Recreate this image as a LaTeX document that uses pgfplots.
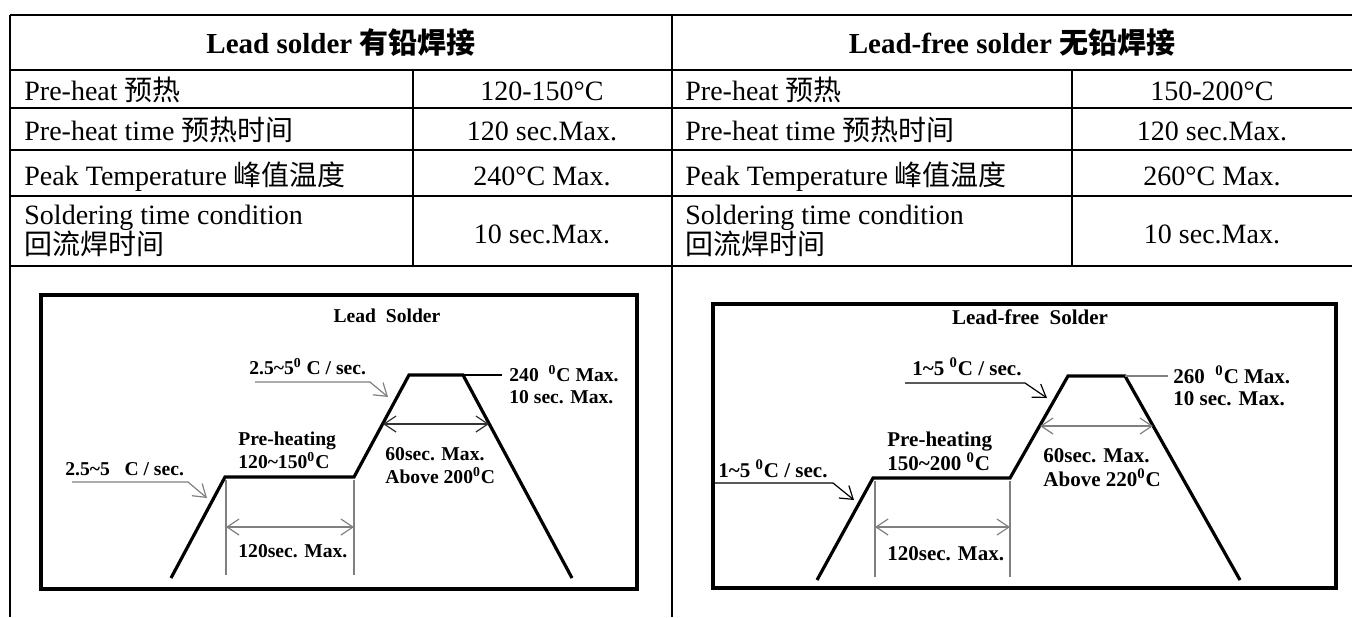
\documentclass[border=0pt]{standalone}
\usepackage{fontspec}
\setmainfont{Liberation Serif}
\newfontfamily\cjk{Noto Sans CJK SC}
\usepackage{pgfplots}
\pgfplotsset{compat=1.18}
\usetikzlibrary{arrows.meta}

\newcommand\tf{\fontsize{14pt}{16pt}\selectfont}
\newcommand\hf{\fontsize{14.5pt}{16pt}\selectfont\bfseries}
\newcommand\lf{\fontsize{9.8pt}{11pt}\selectfont\bfseries}
\newcommand\rf{\fontsize{10.5pt}{12pt}\selectfont\bfseries}
\newcommand\dg{\textsuperscript{0}}
\newcommand\tl{\textasciitilde}

\tikzset{
  rule/.style={line width=1pt},
  lead/.style={line width=0.6pt, -{Straight Barb[length=6pt,width=8pt]}},
  span/.style={line width=0.6pt, {Straight Barb[length=6pt,width=8pt]}-{Straight Barb[length=6pt,width=8pt]}},
  profile/.style={black, line width=1.6pt, line join=miter},
  t/.style={inner sep=0pt, anchor=base west},
  c/.style={inner sep=0pt, anchor=base},
}

\begin{document}
\begin{tikzpicture}
% table, in pixels of the reference
\begin{scope}[x=0.5pt,y=-0.5pt]
\useasboundingbox (0,0) rectangle (1352,617);
\foreach \y in {15,70,108,150,196,266} \draw[rule] (10,\y) -- (1352,\y);
\draw[rule] (10,15) -- (10,617);
\draw[rule] (672,15) -- (672,617);
\draw[rule] (413,70) -- (413,266);
\draw[rule] (1072,70) -- (1072,266);

\node[c, font=\hf] at (341,53) {Lead solder {\cjk 有铅焊接}};
\node[c, font=\hf] at (1012,53) {Lead-free solder {\cjk 无铅焊接}};

\node[t, font=\tf] at (24,100) {Pre-heat {\cjk 预热}};
\node[t, font=\tf] at (24,140) {Pre-heat time {\cjk 预热时间}};
\node[t, font=\tf] at (24,185) {Peak Temperature {\cjk 峰值温度}};
\node[t, font=\tf] at (24,224) {Soldering time condition};
\node[t, font=\tf] at (24,254) {\cjk 回流焊时间};
\node[c, font=\tf] at (542,100) {120-150°C};
\node[c, font=\tf] at (542,140) {120 sec.Max.};
\node[c, font=\tf] at (542,185) {240°C Max.};
\node[c, font=\tf] at (542,243) {10 sec.Max.};

\node[t, font=\tf] at (685,100) {Pre-heat {\cjk 预热}};
\node[t, font=\tf] at (685,140) {Pre-heat time {\cjk 预热时间}};
\node[t, font=\tf] at (685,185) {Peak Temperature {\cjk 峰值温度}};
\node[t, font=\tf] at (685,224) {Soldering time condition};
\node[t, font=\tf] at (685,254) {\cjk 回流焊时间};
\node[c, font=\tf] at (1212,100) {150-200°C};
\node[c, font=\tf] at (1212,140) {120 sec.Max.};
\node[c, font=\tf] at (1212,185) {260°C Max.};
\node[c, font=\tf] at (1212,243) {10 sec.Max.};

\coordinate (A) at (41,589);
\coordinate (B) at (713,588);
\end{scope}

% lead solder profile
\begin{axis}[
    at={(A)}, anchor=south west,
    scale only axis, width=298pt, height=147pt,
    xmin=41, xmax=637, ymin=295, ymax=589,
    y dir=reverse,
    xtick=\empty, ytick=\empty,
    axis line style={line width=1.6pt},
    clip=false,
]
\addplot[profile] coordinates {(171,578) (225,477) (354,477) (409,375) (463,375) (572,578)};
\addplot[gray, line width=0.6pt] coordinates {(226,480) (226,575)};
\addplot[gray, line width=0.6pt] coordinates {(354,480) (354,575)};
\addplot[gray, span] coordinates {(226,527) (354,527)};
\addplot[black!80, span] coordinates {(383,424) (489,424)};
\addplot[black, line width=0.6pt] coordinates {(463,375) (502,375)};
\addplot[gray, lead] coordinates {(255,382) (370,382) (388,397)};
\addplot[gray, lead] coordinates {(72,482) (188,482) (207,498)};

\node[c, font=\lf] at (387,322.5) {Lead\ \ Solder};
\node[t, font=\lf] at (249,374.5) {2.5\tl 5\dg\ C / sec.};
\node[t, font=\lf] at (509,381.5) {240 \ \dg C Max.};
\node[t, font=\lf] at (509,403.5) {10 sec. Max.};
\node[t, font=\lf] at (385,460.5) {60sec. Max.};
\node[t, font=\lf] at (385,483.5) {Above 200\dg C};
\node[t, font=\lf] at (238,445) {Pre-heating};
\node[t, font=\lf] at (238,468.5) {120\tl 150\dg C};
\node[t, font=\lf] at (65,475.5) {2.5\tl 5\ \ \ C / sec.};
\node[t, font=\lf] at (238,557) {120sec. Max.};
\end{axis}

% lead-free solder profile
\begin{axis}[
    at={(B)}, anchor=south west,
    scale only axis, width=311.5pt, height=142pt,
    xmin=713, xmax=1336, ymin=304, ymax=588,
    y dir=reverse,
    xtick=\empty, ytick=\empty,
    axis line style={line width=1.6pt},
    clip=false,
]
\addplot[profile] coordinates {(817,580) (873,478) (1010,478) (1068,376) (1125,376) (1240,580)};
\addplot[gray, line width=0.6pt] coordinates {(875,481) (875,577)};
\addplot[gray, line width=0.6pt] coordinates {(1010,481) (1010,577)};
\addplot[gray, span] coordinates {(875,527) (1010,527)};
\addplot[gray, span] coordinates {(1040,426) (1153,426)};
\addplot[gray, line width=0.6pt] coordinates {(1125,376) (1168,376)};
\addplot[black, lead] coordinates {(905,383) (1025,383) (1047,398)};
\addplot[black, lead] coordinates {(715,483) (833,483) (854,500)};

\node[c, font=\rf] at (1030,324) {Lead-free\ \ Solder};
\node[t, font=\rf] at (912,375) {1\tl 5 \dg C / sec.};
\node[t, font=\rf] at (1173,383) {260 \ \dg C Max.};
\node[t, font=\rf] at (1173,405) {10 sec. Max.};
\node[t, font=\rf] at (1043,462) {60sec. Max.};
\node[t, font=\rf] at (1043,486) {Above 220\dg C};
\node[t, font=\rf] at (887,446) {Pre-heating};
\node[t, font=\rf] at (887,470) {150\tl 200 \dg C};
\node[t, font=\rf] at (718,477) {1\tl 5 \dg C / sec.};
\node[t, font=\rf] at (887,560) {120sec. Max.};
\end{axis}
\end{tikzpicture}
\end{document}
